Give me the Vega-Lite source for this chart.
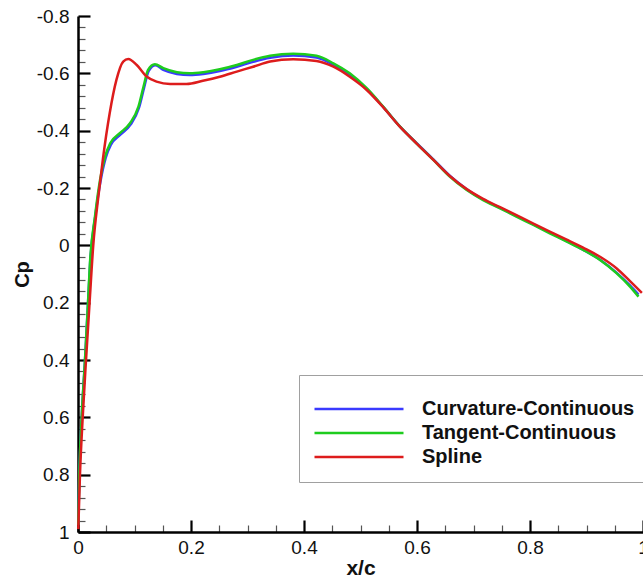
{
  "$schema": "https://vega.github.io/schema/vega-lite/v6.json",
  "autosize": {"type": "none"},
  "padding": {"left": 78, "top": 16, "right": 0, "bottom": 47},
  "width": 565,
  "height": 516,
  "background": "white",
  "config": {
    "view": {"stroke": null},
    "font": "Liberation Sans"
  },
  "data": {
    "values": [
      {"s": "Curvature-Continuous", "x": 0.0005, "cp": 0.975},
      {"s": "Curvature-Continuous", "x": 0.0023, "cp": 0.80},
      {"s": "Curvature-Continuous", "x": 0.0065, "cp": 0.60},
      {"s": "Curvature-Continuous", "x": 0.0124, "cp": 0.40},
      {"s": "Curvature-Continuous", "x": 0.0178, "cp": 0.20},
      {"s": "Curvature-Continuous", "x": 0.0215, "cp": 0.06},
      {"s": "Curvature-Continuous", "x": 0.0305, "cp": -0.10},
      {"s": "Curvature-Continuous", "x": 0.040, "cp": -0.225},
      {"s": "Curvature-Continuous", "x": 0.049, "cp": -0.305},
      {"s": "Curvature-Continuous", "x": 0.058, "cp": -0.350},
      {"s": "Curvature-Continuous", "x": 0.075, "cp": -0.386},
      {"s": "Curvature-Continuous", "x": 0.093, "cp": -0.421},
      {"s": "Curvature-Continuous", "x": 0.108, "cp": -0.480},
      {"s": "Curvature-Continuous", "x": 0.117, "cp": -0.550},
      {"s": "Curvature-Continuous", "x": 0.125, "cp": -0.608},
      {"s": "Curvature-Continuous", "x": 0.137, "cp": -0.628},
      {"s": "Curvature-Continuous", "x": 0.151, "cp": -0.612},
      {"s": "Curvature-Continuous", "x": 0.175, "cp": -0.598},
      {"s": "Curvature-Continuous", "x": 0.198, "cp": -0.594},
      {"s": "Curvature-Continuous", "x": 0.222, "cp": -0.598},
      {"s": "Curvature-Continuous", "x": 0.251, "cp": -0.608},
      {"s": "Curvature-Continuous", "x": 0.281, "cp": -0.623},
      {"s": "Curvature-Continuous", "x": 0.310, "cp": -0.640},
      {"s": "Curvature-Continuous", "x": 0.340, "cp": -0.654},
      {"s": "Curvature-Continuous", "x": 0.381, "cp": -0.662},
      {"s": "Curvature-Continuous", "x": 0.422, "cp": -0.655},
      {"s": "Curvature-Continuous", "x": 0.452, "cp": -0.630},
      {"s": "Curvature-Continuous", "x": 0.481, "cp": -0.596},
      {"s": "Curvature-Continuous", "x": 0.511, "cp": -0.546},
      {"s": "Curvature-Continuous", "x": 0.540, "cp": -0.483},
      {"s": "Curvature-Continuous", "x": 0.570, "cp": -0.414},
      {"s": "Curvature-Continuous", "x": 0.599, "cp": -0.357},
      {"s": "Curvature-Continuous", "x": 0.629, "cp": -0.300},
      {"s": "Curvature-Continuous", "x": 0.658, "cp": -0.243},
      {"s": "Curvature-Continuous", "x": 0.688, "cp": -0.196},
      {"s": "Curvature-Continuous", "x": 0.717, "cp": -0.160},
      {"s": "Curvature-Continuous", "x": 0.747, "cp": -0.131},
      {"s": "Curvature-Continuous", "x": 0.776, "cp": -0.102},
      {"s": "Curvature-Continuous", "x": 0.806, "cp": -0.073},
      {"s": "Curvature-Continuous", "x": 0.835, "cp": -0.044},
      {"s": "Curvature-Continuous", "x": 0.865, "cp": -0.015},
      {"s": "Curvature-Continuous", "x": 0.894, "cp": 0.015},
      {"s": "Curvature-Continuous", "x": 0.924, "cp": 0.050},
      {"s": "Curvature-Continuous", "x": 0.953, "cp": 0.095},
      {"s": "Curvature-Continuous", "x": 0.977, "cp": 0.140},
      {"s": "Curvature-Continuous", "x": 0.992, "cp": 0.172},

      {"s": "Tangent-Continuous", "x": 0.0005, "cp": 0.975},
      {"s": "Tangent-Continuous", "x": 0.0023, "cp": 0.80},
      {"s": "Tangent-Continuous", "x": 0.0065, "cp": 0.60},
      {"s": "Tangent-Continuous", "x": 0.0124, "cp": 0.40},
      {"s": "Tangent-Continuous", "x": 0.0177, "cp": 0.20},
      {"s": "Tangent-Continuous", "x": 0.0212, "cp": 0.061},
      {"s": "Tangent-Continuous", "x": 0.030, "cp": -0.10},
      {"s": "Tangent-Continuous", "x": 0.039, "cp": -0.228},
      {"s": "Tangent-Continuous", "x": 0.048, "cp": -0.310},
      {"s": "Tangent-Continuous", "x": 0.057, "cp": -0.356},
      {"s": "Tangent-Continuous", "x": 0.074, "cp": -0.391},
      {"s": "Tangent-Continuous", "x": 0.092, "cp": -0.426},
      {"s": "Tangent-Continuous", "x": 0.107, "cp": -0.484},
      {"s": "Tangent-Continuous", "x": 0.116, "cp": -0.554},
      {"s": "Tangent-Continuous", "x": 0.124, "cp": -0.612},
      {"s": "Tangent-Continuous", "x": 0.136, "cp": -0.632},
      {"s": "Tangent-Continuous", "x": 0.151, "cp": -0.618},
      {"s": "Tangent-Continuous", "x": 0.175, "cp": -0.604},
      {"s": "Tangent-Continuous", "x": 0.198, "cp": -0.600},
      {"s": "Tangent-Continuous", "x": 0.222, "cp": -0.604},
      {"s": "Tangent-Continuous", "x": 0.251, "cp": -0.614},
      {"s": "Tangent-Continuous", "x": 0.281, "cp": -0.629},
      {"s": "Tangent-Continuous", "x": 0.310, "cp": -0.647},
      {"s": "Tangent-Continuous", "x": 0.340, "cp": -0.661},
      {"s": "Tangent-Continuous", "x": 0.381, "cp": -0.668},
      {"s": "Tangent-Continuous", "x": 0.422, "cp": -0.661},
      {"s": "Tangent-Continuous", "x": 0.452, "cp": -0.635},
      {"s": "Tangent-Continuous", "x": 0.481, "cp": -0.600},
      {"s": "Tangent-Continuous", "x": 0.511, "cp": -0.548},
      {"s": "Tangent-Continuous", "x": 0.540, "cp": -0.484},
      {"s": "Tangent-Continuous", "x": 0.570, "cp": -0.414},
      {"s": "Tangent-Continuous", "x": 0.599, "cp": -0.356},
      {"s": "Tangent-Continuous", "x": 0.629, "cp": -0.298},
      {"s": "Tangent-Continuous", "x": 0.658, "cp": -0.240},
      {"s": "Tangent-Continuous", "x": 0.688, "cp": -0.193},
      {"s": "Tangent-Continuous", "x": 0.717, "cp": -0.158},
      {"s": "Tangent-Continuous", "x": 0.747, "cp": -0.129},
      {"s": "Tangent-Continuous", "x": 0.776, "cp": -0.100},
      {"s": "Tangent-Continuous", "x": 0.806, "cp": -0.071},
      {"s": "Tangent-Continuous", "x": 0.835, "cp": -0.042},
      {"s": "Tangent-Continuous", "x": 0.865, "cp": -0.013},
      {"s": "Tangent-Continuous", "x": 0.894, "cp": 0.016},
      {"s": "Tangent-Continuous", "x": 0.924, "cp": 0.051},
      {"s": "Tangent-Continuous", "x": 0.953, "cp": 0.097},
      {"s": "Tangent-Continuous", "x": 0.977, "cp": 0.144},
      {"s": "Tangent-Continuous", "x": 0.992, "cp": 0.179},

      {"s": "Spline", "x": 0.0005, "cp": 0.99},
      {"s": "Spline", "x": 0.0035, "cp": 0.80},
      {"s": "Spline", "x": 0.0083, "cp": 0.60},
      {"s": "Spline", "x": 0.0142, "cp": 0.40},
      {"s": "Spline", "x": 0.0205, "cp": 0.20},
      {"s": "Spline", "x": 0.027, "cp": 0.0},
      {"s": "Spline", "x": 0.036, "cp": -0.17},
      {"s": "Spline", "x": 0.044, "cp": -0.30},
      {"s": "Spline", "x": 0.056, "cp": -0.46},
      {"s": "Spline", "x": 0.068, "cp": -0.577},
      {"s": "Spline", "x": 0.080, "cp": -0.641},
      {"s": "Spline", "x": 0.089, "cp": -0.650},
      {"s": "Spline", "x": 0.104, "cp": -0.629},
      {"s": "Spline", "x": 0.122, "cp": -0.588},
      {"s": "Spline", "x": 0.139, "cp": -0.571},
      {"s": "Spline", "x": 0.163, "cp": -0.563},
      {"s": "Spline", "x": 0.192, "cp": -0.563},
      {"s": "Spline", "x": 0.221, "cp": -0.574},
      {"s": "Spline", "x": 0.251, "cp": -0.588},
      {"s": "Spline", "x": 0.281, "cp": -0.606},
      {"s": "Spline", "x": 0.310, "cp": -0.623},
      {"s": "Spline", "x": 0.340, "cp": -0.641},
      {"s": "Spline", "x": 0.381, "cp": -0.649},
      {"s": "Spline", "x": 0.422, "cp": -0.643},
      {"s": "Spline", "x": 0.452, "cp": -0.623},
      {"s": "Spline", "x": 0.481, "cp": -0.588},
      {"s": "Spline", "x": 0.511, "cp": -0.542},
      {"s": "Spline", "x": 0.540, "cp": -0.482},
      {"s": "Spline", "x": 0.570, "cp": -0.413},
      {"s": "Spline", "x": 0.599, "cp": -0.356},
      {"s": "Spline", "x": 0.629, "cp": -0.298},
      {"s": "Spline", "x": 0.658, "cp": -0.242},
      {"s": "Spline", "x": 0.688, "cp": -0.196},
      {"s": "Spline", "x": 0.717, "cp": -0.162},
      {"s": "Spline", "x": 0.747, "cp": -0.133},
      {"s": "Spline", "x": 0.776, "cp": -0.105},
      {"s": "Spline", "x": 0.806, "cp": -0.076},
      {"s": "Spline", "x": 0.835, "cp": -0.048},
      {"s": "Spline", "x": 0.865, "cp": -0.020},
      {"s": "Spline", "x": 0.894, "cp": 0.008},
      {"s": "Spline", "x": 0.924, "cp": 0.040},
      {"s": "Spline", "x": 0.953, "cp": 0.080},
      {"s": "Spline", "x": 0.977, "cp": 0.125},
      {"s": "Spline", "x": 0.998, "cp": 0.166}
    ]
  },
  "resolve": {"axis": {"x": "independent", "y": "independent"}},
  "layer": [
    {
      "mark": {"type": "point", "opacity": 0},
      "encoding": {
        "x": {"field": "x", "type": "quantitative",
          "scale": {"domain": [0, 1], "nice": false, "zero": false},
          "axis": {"orient": "bottom", "values": [0.05,0.1,0.15,0.25,0.3,0.35,0.45,0.5,0.55,0.65,0.7,0.75,0.85,0.9,0.95],
            "labels": false, "domain": false, "grid": false, "title": null,
            "tickSize": -7, "tickWidth": 1.2, "tickColor": "#555555"}},
        "y": {"field": "cp", "type": "quantitative",
          "scale": {"domain": [-0.8, 1], "reverse": true, "nice": false, "zero": false},
          "axis": {"orient": "left", "values": [-0.76,-0.72,-0.68,-0.64,-0.56,-0.52,-0.48,-0.44,-0.36,-0.32,-0.28,-0.24,-0.16,-0.12,-0.08,-0.04,0.04,0.08,0.12,0.16,0.24,0.28,0.32,0.36,0.44,0.48,0.52,0.56,0.64,0.68,0.72,0.76,0.84,0.88,0.92,0.96],
            "labels": false, "domain": false, "grid": false, "title": null,
            "tickSize": -7, "tickWidth": 1.2, "tickColor": "#555555"}}
      }
    },
    {
      "mark": {"type": "point", "opacity": 0},
      "encoding": {
        "x": {"field": "x", "type": "quantitative",
          "scale": {"domain": [0, 1], "nice": false, "zero": false},
          "axis": {"orient": "bottom", "values": [0, 0.2, 0.4, 0.6, 0.8, 1],
            "labels": false, "domain": false, "grid": false, "title": null,
            "tickSize": -12, "tickWidth": 2.2, "tickColor": "#000000"}},
        "y": {"field": "cp", "type": "quantitative",
          "scale": {"domain": [-0.8, 1], "reverse": true, "nice": false, "zero": false},
          "axis": {"orient": "left", "values": [-0.8, -0.6, -0.4, -0.2, 0, 0.2, 0.4, 0.6, 0.8, 1],
            "labels": false, "domain": false, "grid": false, "title": null,
            "tickSize": -12, "tickWidth": 2.2, "tickColor": "#000000"}}
      }
    },
    {
      "mark": {"type": "line", "interpolate": "monotone", "strokeWidth": 2.5},
      "encoding": {
        "x": {"field": "x", "type": "quantitative",
          "scale": {"domain": [0, 1], "nice": false, "zero": false},
          "axis": {"orient": "bottom", "values": [0, 0.2, 0.4, 0.6, 0.8, 1],
            "labelExpr": "'' + datum.value",
            "ticks": false, "grid": false, "domain": true, "domainColor": "#000000", "domainWidth": 2.5,
            "labelFlush": false, "labelOverlap": false, "labelPadding": 6,
            "labelFont": "Liberation Sans", "labelFontSize": 19, "labelColor": "#111111",
            "title": "x/c", "titleFont": "Liberation Sans", "titleFontSize": 21, "titleFontWeight": "bold",
            "titleColor": "#111111", "titlePadding": 0}},
        "y": {"field": "cp", "type": "quantitative",
          "scale": {"domain": [-0.8, 1], "reverse": true, "nice": false, "zero": false},
          "axis": {"orient": "left", "values": [-0.8, -0.6, -0.4, -0.2, 0, 0.2, 0.4, 0.6, 0.8, 1],
            "labelExpr": "'' + datum.value",
            "ticks": false, "grid": false, "domain": true, "domainColor": "#000000", "domainWidth": 2.5,
            "labelFlush": false, "labelOverlap": false, "labelPadding": 9,
            "labelFont": "Liberation Sans", "labelFontSize": 19, "labelColor": "#111111",
            "title": "Cp", "titleFont": "Liberation Sans", "titleFontSize": 20, "titleFontWeight": "bold",
            "titleColor": "#111111", "titlePadding": 4}},
        "color": {"field": "s", "type": "nominal",
          "scale": {"domain": ["Curvature-Continuous", "Tangent-Continuous", "Spline"],
                    "range": ["#3a3aff", "#1ecc1e", "#dd1c1c"]},
          "legend": {"orient": "none", "legendX": 221, "legendY": 359,
            "title": " ", "titleFontSize": 4, "titlePadding": 5,
            "symbolType": "stroke", "symbolSize": 7921, "symbolStrokeWidth": 2.5,
            "clipHeight": 22, "rowPadding": 2,
            "labelFont": "Liberation Sans", "labelFontSize": 20, "labelFontWeight": "bold",
            "labelColor": "#111111", "labelOffset": 17, "labelLimit": 400,
            "padding": 14, "strokeColor": "#a0a0a0", "fillColor": "white"}}
      }
    }
  ]
}
